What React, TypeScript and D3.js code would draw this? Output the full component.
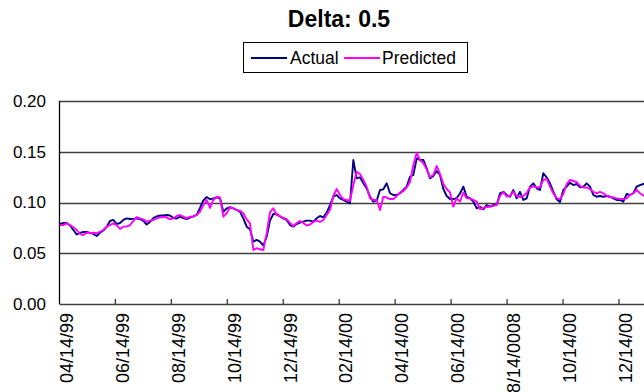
import React from "react";
import * as d3 from "d3";

const title = "Delta: 0.5";
const seriesNames = ["Actual", "Predicted"];
const tickLabels = ["04/14/99", "06/14/99", "08/14/99", "10/14/99", "12/14/99", "02/14/00", "04/14/00", "06/14/00", "08/14/0008", "10/14/00", "12/14/00"];
const yTicks = [0, 0.05, 0.1, 0.15, 0.2];

const actual = [
  0.0788, 0.0798, 0.0798, 0.0773, 0.0729, 0.0685, 0.0700, 0.0709, 0.0709, 0.0700,
  0.0690, 0.0670, 0.0702, 0.0724, 0.0759, 0.0818, 0.0828, 0.0788, 0.0798, 0.0828,
  0.0844, 0.0837, 0.0839, 0.0844, 0.0837, 0.0818, 0.0783, 0.0808, 0.0847, 0.0864,
  0.0872, 0.0872, 0.0877, 0.0872, 0.0847, 0.0842, 0.0860, 0.0847, 0.0837, 0.0852,
  0.0864, 0.0877, 0.0946, 0.1020, 0.1054, 0.1032, 0.1041, 0.1051, 0.1041, 0.0909,
  0.0943, 0.0953, 0.0943, 0.0926, 0.0909, 0.0844, 0.0762, 0.0736, 0.0614, 0.0631,
  0.0614, 0.0576, 0.0663, 0.0821, 0.0887, 0.0887, 0.0862, 0.0844, 0.0828, 0.0778,
  0.0762, 0.0788, 0.0801, 0.0811, 0.0821, 0.0821, 0.0811, 0.0844, 0.0867, 0.0854,
  0.0900, 0.0975, 0.1057, 0.1074, 0.1041, 0.1025, 0.1008, 0.0992, 0.1419, 0.1238,
  0.1248, 0.1189, 0.1140, 0.1057, 0.1008, 0.1018, 0.1123, 0.1130, 0.1189, 0.1091,
  0.1074, 0.1074, 0.1091, 0.1123, 0.1156, 0.1254, 0.1271, 0.1435, 0.1419, 0.1419,
  0.1337, 0.1238, 0.1261, 0.1310, 0.1271, 0.1133, 0.1064, 0.1034, 0.1034, 0.1044,
  0.1089, 0.1156, 0.1057, 0.1041, 0.1008, 0.0943, 0.0959, 0.0933, 0.0975, 0.0959,
  0.0975, 0.0975, 0.1091, 0.1106, 0.1074, 0.1057, 0.1123, 0.1041, 0.1106, 0.1025,
  0.1041, 0.1156, 0.1189, 0.1140, 0.1123, 0.1288, 0.1248, 0.1189, 0.1106, 0.1032,
  0.1005, 0.1123, 0.1156, 0.1195, 0.1172, 0.1182, 0.1150, 0.1156, 0.1189, 0.1156,
  0.1074, 0.1057, 0.1064, 0.1057, 0.1064, 0.1057, 0.1041, 0.1025, 0.1025, 0.1008,
  0.1084, 0.1074, 0.1091, 0.1156, 0.1172, 0.1182, 0.1192,
];

const predicted = [
  0.0778, 0.0778, 0.0795, 0.0778, 0.0756, 0.0729, 0.0690, 0.0680, 0.0702, 0.0697,
  0.0702, 0.0697, 0.0712, 0.0729, 0.0762, 0.0778, 0.0795, 0.0778, 0.0739, 0.0762,
  0.0762, 0.0778, 0.0818, 0.0857, 0.0844, 0.0834, 0.0811, 0.0821, 0.0828, 0.0844,
  0.0854, 0.0860, 0.0854, 0.0834, 0.0844, 0.0867, 0.0877, 0.0860, 0.0844, 0.0860,
  0.0860, 0.0877, 0.0909, 0.0975, 0.1025, 0.0946, 0.1025, 0.1057, 0.1051, 0.0860,
  0.0894, 0.0953, 0.0943, 0.0926, 0.0919, 0.0894, 0.0834, 0.0795, 0.0532, 0.0549,
  0.0539, 0.0532, 0.0697, 0.0906, 0.0943, 0.0877, 0.0867, 0.0847, 0.0837, 0.0798,
  0.0768, 0.0798, 0.0818, 0.0798, 0.0773, 0.0783, 0.0808, 0.0821, 0.0808, 0.0828,
  0.0877, 0.0926, 0.1064, 0.1133, 0.1074, 0.1034, 0.1025, 0.1017, 0.1172, 0.1303,
  0.1281, 0.1222, 0.1156, 0.1041, 0.1025, 0.1025, 0.0926, 0.1057, 0.1049, 0.1034,
  0.1034, 0.1064, 0.1099, 0.1113, 0.1148, 0.1202, 0.1369, 0.1488, 0.1419, 0.1389,
  0.1327, 0.1251, 0.1271, 0.1360, 0.1281, 0.1182, 0.1133, 0.1099, 0.0959, 0.1041,
  0.1008, 0.1099, 0.1041, 0.1041, 0.1025, 0.1008, 0.0936, 0.0946, 0.0956, 0.0961,
  0.0966, 0.0975, 0.1064, 0.1103, 0.1059, 0.1064, 0.1108, 0.1064, 0.1054, 0.1064,
  0.1094, 0.1148, 0.1158, 0.1148, 0.1153, 0.1222, 0.1232, 0.1156, 0.1091, 0.1041,
  0.1034, 0.1084, 0.1182, 0.1222, 0.1212, 0.1202, 0.1163, 0.1148, 0.1148, 0.1133,
  0.1106, 0.1091, 0.1106, 0.1091, 0.1066, 0.1057, 0.1049, 0.1041, 0.1034, 0.1034,
  0.1041, 0.1074, 0.1091, 0.1123, 0.1091, 0.1069, 0.1054,
];

const colors = ["#000080", "#FF00FF"];
const FONT = "'Liberation Sans', Arial, sans-serif";

export default function App() {
  const W = 644, H = 392;
  const left = 59.5, right = 720, top = 101, bottom = 304;
  const x = d3.scaleLinear().domain([0, 168]).range([60, 620]);
  const y = d3.scaleLinear().domain([0, 0.2]).range([bottom, top]);
  const tickStep = 16.79, tickOffset = -0.2;
  const line = d3.line<number>().x((_, i) => x(i)).y((d) => y(d));
  const series = [actual, predicted];

  return (
    <svg width={W} height={H} style={{ position: "absolute", left: 0, top: 0, background: "#fff" }} fontFamily={FONT}>
      <rect x={0} y={0} width={W} height={H} fill="#fff" />
      <text x={339} y={27} textAnchor="middle" fontSize={23} fontWeight="bold" fill="#000">{title}</text>
      <g>
        <rect x={243.5} y={42.5} width={224} height={30} fill="#fff" stroke="#000" strokeWidth={1} />
        <line x1={251} x2={287} y1={58} y2={58} stroke={colors[0]} strokeWidth={2} />
        <text x={290} y={64} fontSize={17.5} fill="#000">{seriesNames[0]}</text>
        <line x1={344} x2={380} y1={58} y2={58} stroke={colors[1]} strokeWidth={2} />
        <text x={382} y={64} fontSize={17.5} fill="#000">{seriesNames[1]}</text>
      </g>
      {yTicks.map((t) => (
        <g key={t}>
          {t > 0 && <line x1={left} x2={right} y1={Math.round(y(t)) + 0.5} y2={Math.round(y(t)) + 0.5} stroke="#404040" strokeWidth={1.3} />}
          <text x={46} y={y(t)} dy="0.35em" textAnchor="end" fontSize={17} fill="#000">{d3.format(".2f")(t)}</text>
        </g>
      ))}
      {series.map((s, k) => (
        <path key={k} d={line(s) || ""} fill="none" stroke={colors[k]} strokeWidth={1.9} strokeLinejoin="round" />
      ))}
      <line x1={left} x2={left} y1={top} y2={bottom} stroke="#000" strokeWidth={1.3} />
      <line x1={left} x2={right} y1={bottom + 0.5} y2={bottom + 0.5} stroke="#404040" strokeWidth={1.3} />
      {tickLabels.map((lab, k) => {
        const tx = x(tickOffset + k * tickStep);
        return (
          <g key={lab}>
            {k > 0 && <line x1={tx} x2={tx} y1={bottom} y2={bottom - 5} stroke="#000" strokeWidth={1} />}
            <text transform={`translate(${tx + 7},313) rotate(-90)`} dy="0.35em" textAnchor="end" fontSize={18} fill="#000">{lab}</text>
          </g>
        );
      })}
    </svg>
  );
}
